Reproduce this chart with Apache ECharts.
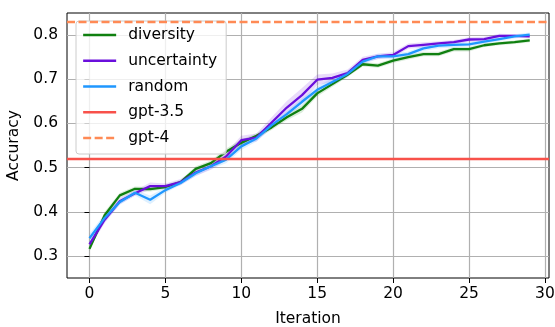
<!DOCTYPE html>
<html>
<head>
<meta charset="utf-8">
<script src="https://cdn.jsdelivr.net/npm/echarts@6/dist/echarts.min.js"></script>
<style>html,body{margin:0;padding:0;background:#fff}#c{width:555px;height:327px}</style>
</head>
<body>
<div id="c"></div>
<script>
const iterations = [0,1,2,3,4,5,6,7,8,9,10,11,12,13,14,15,16,17,18,19,20,21,22,23,24,25,26,27,28,29];
const diversity = [0.316,0.392,0.437,0.452,0.451,0.456,0.467,0.497,0.510,0.536,0.556,0.572,0.591,0.614,0.633,0.668,0.689,0.710,0.734,0.731,0.742,0.750,0.757,0.757,0.768,0.768,0.777,0.781,0.784,0.788];
const uncertainty = [0.326,0.382,0.424,0.442,0.458,0.458,0.467,0.489,0.503,0.525,0.562,0.568,0.602,0.636,0.664,0.699,0.703,0.714,0.744,0.752,0.755,0.775,0.778,0.781,0.784,0.790,0.791,0.798,0.798,0.797];
const random = [0.340,0.386,0.422,0.443,0.427,0.449,0.465,0.487,0.503,0.518,0.548,0.566,0.596,0.621,0.649,0.676,0.694,0.712,0.740,0.752,0.752,0.757,0.770,0.776,0.778,0.779,0.785,0.791,0.797,0.801];
const diversitySpread = [0.006,0.008,0.006,0.005,0.005,0.005,0.005,0.006,0.006,0.007,0.007,0.006,0.006,0.007,0.008,0.007,0.006,0.005,0.005,0.005,0.005,0.005,0.005,0.005,0.005,0.005,0.004,0.004,0.004,0.004];
const uncertaintySpread = [0.008,0.008,0.007,0.006,0.008,0.006,0.007,0.008,0.008,0.009,0.010,0.009,0.012,0.015,0.016,0.012,0.010,0.008,0.007,0.006,0.006,0.006,0.006,0.005,0.005,0.005,0.005,0.005,0.004,0.004];
const randomSpread = [0.010,0.009,0.006,0.006,0.010,0.006,0.005,0.006,0.006,0.008,0.008,0.007,0.007,0.007,0.008,0.008,0.008,0.007,0.006,0.006,0.006,0.006,0.006,0.006,0.006,0.005,0.005,0.005,0.005,0.005];
const gpt35 = 0.516;
const gpt4 = 0.826;
const xTicks = [0,5,10,15,20,25,30];
const yTicks = [0.3,0.4,0.5,0.6,0.7,0.8];

const FONT = 'DejaVu Sans';
const FS = 15.5;
const colors = {diversity:'#108010', uncertainty:'#6a0fdc', random:'#1f97ff', gpt35:'#f8514a', gpt4:'#ff8a55'};

function pairs(arr){ return iterations.map((x,i)=>[x,arr[i]]); }
function band(mean, spread, color){
  return {
    type:'custom', silent:true, z:1, data:[[iterations[0], mean[0]]],
    renderItem:function(params, api){
      const pts=[];
      for(let i=0;i<iterations.length;i++) pts.push(api.coord([iterations[i], mean[i]+spread[i]]));
      for(let i=iterations.length-1;i>=0;i--) pts.push(api.coord([iterations[i], mean[i]-spread[i]]));
      return {type:'polygon', shape:{points:pts}, style:{fill:color}};
    }
  };
}
function line(name, arr, color){
  return {name, type:'line', data:pairs(arr), symbol:'none', showSymbol:false, z:3,
    lineStyle:{color, width:2.3}, itemStyle:{color}};
}
function hline(name, value, color, type){
  return {name, type:'line', data:[], symbol:'none', z:4,
    lineStyle:{color, width:2.3, type}, itemStyle:{color},
    markLine:{silent:true, symbol:'none', label:{show:false}, animation:false,
      lineStyle:{color, width:2.3, type}, data:[{yAxis:value}]}};
}

const chart = echarts.init(document.getElementById('c'));
chart.setOption({
  animation:false,
  textStyle:{fontFamily:FONT},
  grid:{left:67, top:13, right:6, bottom:49, outerBoundsMode:'none', containLabel:false,
    show:true, borderColor:'#000', borderWidth:1, backgroundColor:'transparent'},
  xAxis:{type:'value', min:-1.48, max:30.27,
    name:'Iteration', nameLocation:'middle', nameGap:33,
    nameTextStyle:{fontFamily:FONT, fontSize:FS, color:'#000'},
    axisLine:{show:false},
    axisTick:{show:true, customValues:xTicks, length:5, lineStyle:{color:'#000', width:1}},
    axisLabel:{customValues:xTicks, margin:8, fontFamily:FONT, fontSize:FS, color:'#000'},
    splitLine:{show:true, lineStyle:{color:'#b0b0b0', width:1.2}}
  },
  yAxis:{type:'value', min:0.25, max:0.85,
    name:'Accuracy', nameLocation:'middle', nameGap:41, nameRotate:90,
    nameTextStyle:{fontFamily:FONT, fontSize:FS, color:'#000'},
    axisLine:{show:false},
    axisTick:{show:true, customValues:yTicks, length:5, lineStyle:{color:'#000', width:1}},
    axisLabel:{customValues:yTicks, margin:9, fontFamily:FONT, fontSize:FS, color:'#000',
      formatter:v=>v.toFixed(1)},
    splitLine:{show:true, lineStyle:{color:'#b0b0b0', width:1.2}}
  },
  legend:{show:true, orient:'vertical', left:76, top:21,
    data:['diversity','uncertainty','random','gpt-3.5','gpt-4'],
    itemWidth:33, itemHeight:14, itemGap:9.75,
    padding:[6,9,8,6],
    itemStyle:{opacity:0},
    lineStyle:{width:2.3},
    backgroundColor:'rgba(255,255,255,0.8)', borderColor:'#cccccc', borderWidth:1, borderRadius:3,
    textStyle:{fontFamily:FONT, fontSize:FS, color:'#000', padding:[0,0,0,7]},
    selectedMode:false
  },
  series:[
    band(diversity, diversitySpread, 'rgba(16,128,16,0.15)'),
    band(uncertainty, uncertaintySpread, 'rgba(106,15,220,0.15)'),
    band(random, randomSpread, 'rgba(31,151,255,0.15)'),
    line('diversity', diversity, colors.diversity),
    line('uncertainty', uncertainty, colors.uncertainty),
    line('random', random, colors.random),
    hline('gpt-3.5', gpt35, colors.gpt35, 'solid'),
    hline('gpt-4', gpt4, colors.gpt4, [8,3.5])
  ]
});
</script>
</body>
</html>
